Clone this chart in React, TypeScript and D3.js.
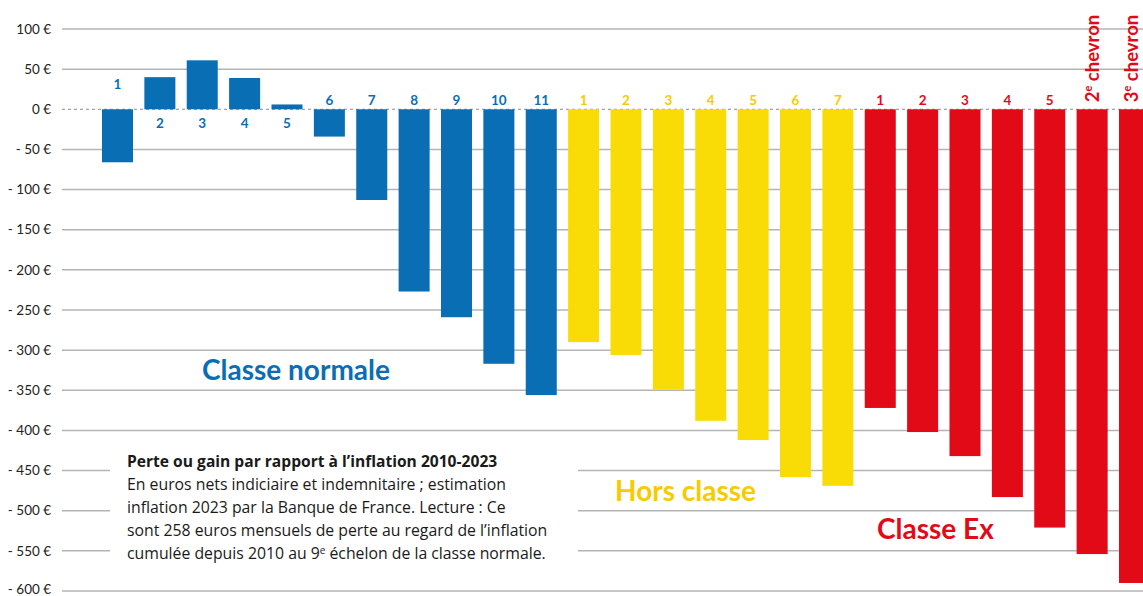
import { useEffect } from "react"
import * as d3 from "d3"

// Perte ou gain par rapport à l'inflation 2010-2023, par échelon (euros / mois)
const normaleLabels = ["1", "2", "3", "4", "5", "6", "7", "8", "9", "10", "11"]
const normaleValues = [-66, 40, 61, 39, 6, -34, -113, -227, -259, -317, -356]

const horsClasseLabels = ["1", "2", "3", "4", "5", "6", "7"]
const horsClasseValues = [-290, -306, -349, -388, -412, -458, -469]

const exLabels = ["1", "2", "3", "4", "5", "2", "3"]
const exValues = [-372, -402, -432, -483, -521, -554, -590]
const chevrons = [false, false, false, false, false, true, true]

const yTicks = [100, 50, 0, -50, -100, -150, -200, -250, -300, -350, -400, -450, -500, -550, -600]

const BLUE = "#0a6eb5"
const YELLOW = "#f9dc06"
const YELLOW_TEXT = "#f7cb00"
const RED = "#e20a17"
const FONT = "Lato, 'Open Sans', sans-serif"
const NOTE_FONT = "'Open Sans', 'Noto Sans', sans-serif"

const bars = [
  ...normaleValues.map((v, i) => ({ key: "n" + i, label: normaleLabels[i], value: v, fill: BLUE, text: BLUE, chevron: false })),
  ...horsClasseValues.map((v, i) => ({ key: "h" + i, label: horsClasseLabels[i], value: v, fill: YELLOW, text: YELLOW_TEXT, chevron: false })),
  ...exValues.map((v, i) => ({ key: "e" + i, label: exLabels[i], value: v, fill: RED, text: RED, chevron: chevrons[i] })),
]

const fmt = (v: number) => (v < 0 ? "- " : "") + Math.abs(v) + "\u202f€"

export default function App() {
  useEffect(() => {
    document.body.style.margin = "0"
  }, [])

  const width = 1143
  const height = 596

  const x = d3
    .scaleBand()
    .domain(bars.map((b) => b.key))
    .range([96.3, 1155.7])
    .paddingInner(0.268)
    .paddingOuter(0.134)

  const y = d3.scaleLinear().domain([100, -600]).range([29, 591])

  return (
    <svg width={width} height={height} style={{ display: "block", fontFamily: FONT }}>
      {/* grid */}
      {yTicks.map((t) => (
        <g key={t}>
          <line
            x1={62}
            x2={width}
            y1={y(t)}
            y2={y(t)}
            stroke={t === 0 ? "#8a8a8a" : "#b4b4b4"}
            strokeWidth={t === 0 ? 1 : 1.5}
            strokeDasharray={t === 0 ? "3,3" : undefined}
          />
          <text x={51} y={Math.min(y(t), height - 7)} dy="0.35em" textAnchor="end" fontSize={13.5} fill="#222">
            {fmt(t)}
          </text>
        </g>
      ))}

      {/* white box behind the note */}
      <rect x={110} y={441} width={468} height={128} fill="#fff" />

      {/* bars */}
      {bars.map((b, i) => {
        const y0 = y(0)
        const yv = y(b.value)
        const cx = (x(b.key) as number) + x.bandwidth() / 2
        let ly = b.value >= 0 ? y0 + 19 : y0 - 4
        if (i === 0) ly = y0 - 20
        return (
          <g key={b.key}>
            <rect x={x(b.key)} y={Math.min(y0, yv)} width={x.bandwidth()} height={Math.abs(yv - y0)} fill={b.fill} />
            {!b.chevron && (
              <text x={cx} y={ly} textAnchor="middle" fontSize={13.5} fontWeight={700} fill={b.text}>
                {b.label}
              </text>
            )}
            {b.chevron && (
              <text
                transform={`translate(${Math.min(cx + 6.5, width - 5)},${y0 - 7}) rotate(-90)`}
                fontSize={18.5}
                fontWeight={700}
                fill={b.text}
              >
                {b.label}
                <tspan fontSize={11} dy={-7}>e</tspan>
                <tspan dy={7}>{"\u00a0chevron"}</tspan>
              </text>
            )}
          </g>
        )
      })}

      {/* group labels */}
      <text x={296} y={380} textAnchor="middle" fontSize={28} fontWeight={700} fill={BLUE}>
        Classe normale
      </text>
      <text x={615} y={501} fontSize={28} fontWeight={700} fill={YELLOW_TEXT}>
        Hors classe
      </text>
      <text x={877} y={539} fontSize={28} fontWeight={700} fill={RED}>
        Classe Ex
      </text>

      {/* note */}
      <g fontSize={15.8} fill="#1a1a1a" fontFamily={NOTE_FONT}>
        <text x={127} y={467} fontWeight={700} fontSize={15.6}>
          Perte ou gain par rapport à l’inflation 2010-2023
        </text>
        <text x={127} y={490}>En euros nets indiciaire et indemnitaire ; estimation</text>
        <text x={127} y={513}>inflation 2023 par la Banque de France. Lecture : Ce</text>
        <text x={127} y={536}>sont 258 euros mensuels de perte au regard de l’inflation</text>
        <text x={127} y={559}>
          cumulée depuis 2010 au 9<tspan fontSize={10} dy={-5}>e</tspan>
          <tspan dy={5}> échelon de la classe normale.</tspan>
        </text>
      </g>
    </svg>
  )
}
